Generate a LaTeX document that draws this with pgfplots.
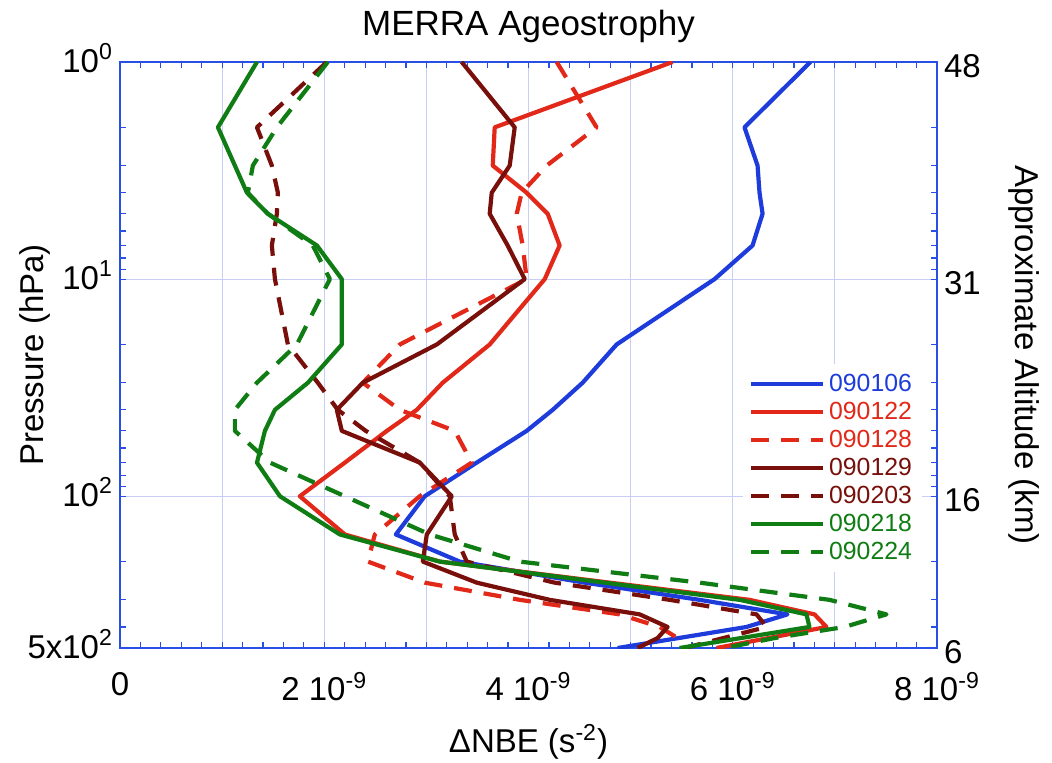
\documentclass[border=0pt]{standalone}
\usepackage{pgfplots}
\pgfplotsset{compat=1.18}
\usepackage{fontspec}
\setmainfont{Liberation Sans}
\definecolor{cblue}{RGB}{30,60,220}
\definecolor{cred}{RGB}{225,40,25}
\definecolor{cbrown}{RGB}{120,15,10}
\definecolor{cgreen}{RGB}{15,125,20}
\definecolor{axisblue}{RGB}{40,80,230}
\definecolor{gridc}{RGB}{200,205,245}
\newcommand{\bigf}{\fontsize{16.5pt}{19pt}\selectfont}
\newcommand{\titf}{\fontsize{17.5pt}{20pt}\selectfont}
\newcommand{\legf}{\fontsize{12.4pt}{14pt}\selectfont}
\begin{document}
\begin{tikzpicture}
\useasboundingbox (-60pt,-57.5pt) rectangle (466pt,324pt);
\begin{axis}[
  scale only axis, width=408.5pt, height=293pt,
  xmin=0, xmax=8, ymode=log, ymin=1, ymax=500, y dir=reverse,
  xtick={0,1,...,8},
  xticklabels={0,,2 10\textsuperscript{-9},,4 10\textsuperscript{-9},,6 10\textsuperscript{-9},,8 10\textsuperscript{-9}},
  minor x tick num=4,
  ytick={1,10,100,500},
  yticklabels={10\textsuperscript{0},10\textsuperscript{1},10\textsuperscript{2},5x10\textsuperscript{2}},
  minor ytick={2,3,4,5,6,7,8,9,20,30,40,50,60,70,80,90,200,300,400},
  xtick pos=both, ytick pos=both, xticklabel pos=bottom, yticklabel pos=left,
  tick align=inside,
  major tick length=3pt, minor tick length=3pt,
  every tick/.style={axisblue, line width=0.6pt},
  axis line style={axisblue, line width=1pt},
  grid=major,
  major grid style={gridc, line width=0.6pt},
  tick label style={font=\bigf},
  xticklabel style={yshift=-8.5pt},
  yticklabel style={yshift=2pt},
  title={MERRA Ageostrophy},
  every axis title/.style={at={(axis description cs:0.5,1.06)}, anchor=center, font=\titf},
  xlabel={ΔNBE (s\textsuperscript{-2})},
  every axis x label/.style={at={(axis description cs:0.5,-0.16)}, anchor=center, font=\bigf},
  ylabel={Pressure (hPa)},
  every axis y label/.style={at={(axis description cs:-0.104,0.5)}, rotate=90, anchor=center, font=\bigf},
  legend style={at={(0.982,0.485)}, anchor=north east, fill=white, draw=none, font=\legf, row sep=-0.2pt, inner sep=3pt},
  legend cell align=left,
  legend image code/.code={\draw[#1] (0pt,0pt) -- (36pt,0pt);},
  every axis plot/.append style={line width=2.1pt, line join=round},
]
\addplot[cblue] coordinates {(6.761,1) (6.115,2) (6.243,3) (6.262,4) (6.292,5) (6.194,7) (5.822,10) (4.863,20) (4.530,30) (4.237,40) (3.982,50) (3.493,70) (2.984,100) (2.701,150) (3.327,200) (4.550,250) (5.675,300) (6.536,350) (6.135,400) (4.873,500)};
\addlegendentry{\textcolor{cblue}{090106}}
\addplot[cred] coordinates {(5.411,1) (3.669,2) (3.650,3) (3.982,4) (4.188,5) (4.305,7) (4.159,10) (3.620,20) (3.160,30) (2.906,40) (2.613,50) (2.202,70) (1.761,100) (2.202,150) (3.131,200) (4.795,250) (6.164,300) (6.800,350) (6.918,400) (5.841,500)};
\addlegendentry{\textcolor{cred}{090122}}
\addplot[cred, dash pattern=on 9pt off 6pt] coordinates {(4.276,1) (4.667,2) (4.178,3) (3.933,4) (3.885,5) (3.943,7) (3.982,10) (2.740,20) (2.378,30) (2.740,40) (3.278,50) (3.444,70) (2.935,100) (2.495,150) (2.427,200) (2.984,250) (3.914,300) (4.892,350) (5.284,400) (5.460,450)};
\addlegendentry{\textcolor{cred}{090128}}
\addplot[cbrown] coordinates {(3.346,1) (3.865,2) (3.816,3) (3.640,4) (3.620,5) (3.796,7) (3.963,10) (3.102,20) (2.378,30) (2.123,40) (2.172,50) (2.935,70) (3.249,100) (3.004,150) (2.965,200) (3.493,250) (4.207,300) (5.088,350) (5.362,400) (5.264,450) (5.068,500)};
\addlegendentry{\textcolor{cbrown}{090129}}
\addplot[cbrown, dash pattern=on 9pt off 6pt] coordinates {(2.025,1) (1.341,2) (1.487,3) (1.546,4) (1.536,5) (1.487,7) (1.517,10) (1.644,20) (1.937,30) (2.133,40) (2.407,50) (2.935,70) (3.229,100) (3.278,150) (3.395,200) (4.256,250) (5.382,300) (6.233,350) (6.331,400) (5.528,500)};
\addlegendentry{\textcolor{cbrown}{090203}}
\addplot[cgreen] coordinates {(1.341,1) (0.959,2) (1.125,3) (1.243,4) (1.448,5) (1.928,7) (2.172,10) (2.172,20) (1.840,30) (1.517,40) (1.419,50) (1.341,70) (1.566,100) (2.153,150) (3.131,200) (4.746,250) (6.067,300) (6.722,350) (6.751,400) (5.479,500)};
\addlegendentry{\textcolor{cgreen}{090218}}
\addplot[cgreen, dash pattern=on 9pt off 6pt] coordinates {(2.035,1) (1.536,2) (1.301,3) (1.252,4) (1.448,5) (1.888,7) (2.055,10) (1.732,20) (1.341,30) (1.125,40) (1.125,50) (1.468,70) (2.202,100) (3.033,150) (3.914,200) (5.675,250) (6.947,300) (7.505,350) (7.094,400) (6.409,450) (5.920,500)};
\addlegendentry{\textcolor{cgreen}{090224}}
\end{axis}
\begin{axis}[
  scale only axis, width=408.5pt, height=293pt,
  xmin=0, xmax=8, ymode=log, ymin=1, ymax=500, y dir=reverse,
  hide x axis, axis y line*=right,
  axis line style={draw=none},
  ytick={1,10,100,500}, yticklabels={48,31,16,6},
  minor ytick={}, major tick length=0pt,
  tick label style={font=\bigf},
  yticklabel style={yshift=-2pt},
  ylabel={Approximate Altitude (km)},
  every axis y label/.style={at={(axis description cs:1.106,0.5)}, rotate=-90, anchor=center, font=\bigf},
]
\addplot[draw=none] coordinates {(0,1) (8,500)};
\end{axis}
\end{tikzpicture}
\end{document}
